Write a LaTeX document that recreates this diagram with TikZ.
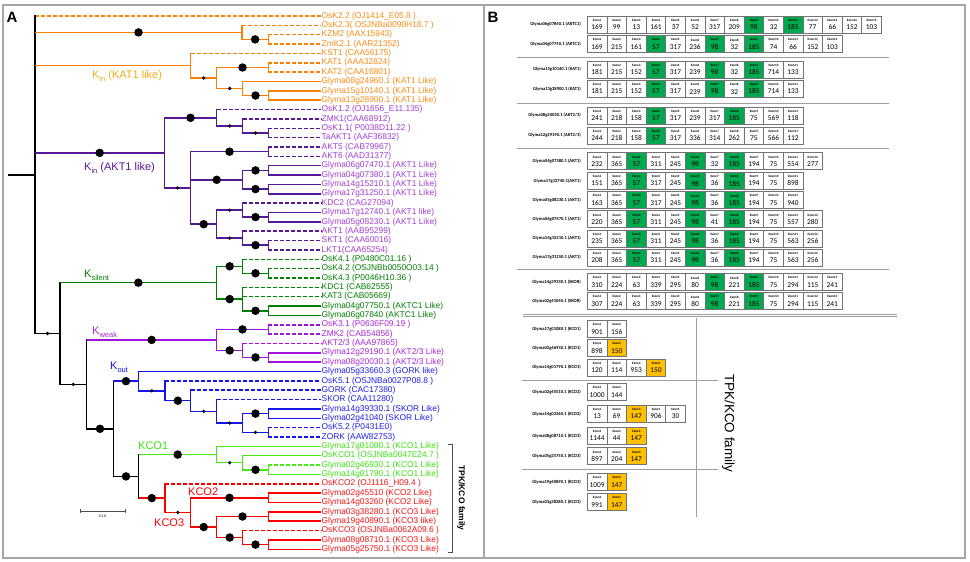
\documentclass[tikz,border=0pt]{standalone}
\usepackage{fontspec}
\setmainfont{Liberation Sans}
\newfontfamily\calibfont{Carlito}
\usetikzlibrary{positioning}
\definecolor{orl}{RGB}{255,128,0}
\definecolor{ort}{RGB}{247,140,20}
\definecolor{katlab}{RGB}{240,176,20}
\definecolor{pul}{RGB}{85,25,150}
\definecolor{put}{RGB}{165,60,210}
\definecolor{grl}{RGB}{0,128,0}
\definecolor{grt}{RGB}{0,128,0}
\definecolor{vil}{RGB}{160,20,220}
\definecolor{vit}{RGB}{170,40,215}
\definecolor{bll}{RGB}{20,20,235}
\definecolor{blt}{RGB}{30,30,230}
\definecolor{lil}{RGB}{70,235,20}
\definecolor{lit}{RGB}{60,225,20}
\definecolor{rel}{RGB}{255,0,0}
\definecolor{ret}{RGB}{245,20,20}
\colorlet{bkl}{black}
\colorlet{ew}{white}
\definecolor{eg}{RGB}{0,168,80}
\definecolor{ey}{RGB}{255,192,0}
\newcommand\ksub[1]{\raisebox{-0.45ex}{\fontsize{7.5}{8}\selectfont #1}}
\tikzset{
	treeline/.style={line width=1.5pt}, %every branch of the tree
	vert/.style={line cap=rect}, %closes the corners of the elbows
	leafdash/.style={dash pattern=on 4pt off 2pt}, %leaves that are not soybean genes
	bigdot/.style={circle, fill=black, inner sep=0pt, minimum size=8.5pt},
	smalldot/.style={circle, fill=black, inner sep=0pt, minimum size=3.6pt},
	nodot/.style={inner sep=0pt, minimum size=0pt},
	leaflab/.style={anchor=west, inner sep=0.5pt, font=\fontsize{8.4}{9}\selectfont},
	clade/.style={anchor=west, inner sep=0pt, font=\fontsize{11}{12}\selectfont},
	panframe/.style={draw=gray!70, line width=1.3pt},
	panlab/.style={font=\bfseries\fontsize{15}{16}\selectfont, inner sep=0pt},
	exon/.style={draw=black!55, line width=0.6pt, minimum width=19.6pt, minimum height=17pt, inner sep=0pt, align=center, font=\calibfont\fontsize{7.4}{7}\selectfont},
	rowlab/.style={anchor=east, inner sep=0pt, font=\calibfont\bfseries\fontsize{4.6}{5}\selectfont},
	divline/.style={draw=gray!75, line width=0.8pt}, %lines between the gene groups
}

\begin{document}
\begin{tikzpicture}[x=1pt,y=-1pt]
	\useasboundingbox (0,0) rectangle (970,562);
	% frames of the two panels
	\draw[panframe] (3,5) rectangle (965,558);
	\coordinate (mtop) at (484,5);
	\coordinate (mbot) at (484,558);
	\draw[panframe] (mtop) -- (mbot);
	\node[panlab] (pA) at (12,17) {A};
	\node[panlab] (pB) at (493,17) {B};

	% ---- A: tree ----
	\foreach \nm/\xx/\yy in {R/35/175, o1/242/32.4, o2/268.3/39.4, o3/190.7/65.7, o4/216.7/78,
		o5/268.3/67.5, o6/242.7/88.5, o7/268.3/95.5, p1/164.3/152.9, p2/216.7/117.8,
		p3/242.7/126, p4/268.3/133, p5/190.7/187.9, p6/268.3/151.7, p7/242.7/179.8,
		p8/268.3/170.4, p9/268.3/189.1, p10/216.7/224.2, p11/242.7/210.1, p12/268.3/217.1,
		p13/242.7/238.2, p14/268.3/245.2, b1/60/333.5, g1/216.7/282.7, g2/242.7/266.3,
		g3/268.3/273.3, g4/242.7/299.1, g5/268.3/310.8, b2/86.7/384.4, v1/216.7/339.9,
		v2/268.3/329.4, v3/242.7/350.4, v4/268.3/357.4, b3/113.3/428.8, u1/138.7/381.2,
		u2/165/390.8, u3/190.7/400.7, u4/216.7/411.3, u5/242.7/423, u6/268.3/413.6,
		u7/268.3/432.3, b4/138.7/476.4, k1/216.7/454.6, k2/242.7/462.7, k3/268.3/469.8,
		r1/165/498.1, r2/190.7/512.4, r3/268.3/497.8, r4/216.7/527, r5/268.3/516.5,
		r6/242.7/537.5, r7/268.3/544.6}
		\coordinate (\nm) at (\xx,\yy);
	\coordinate (root0) at (8,175);
	\draw[treeline,bkl] (root0) -- (R);

	% leaves: number/parent/colour/line/text
	\foreach \i/\pa/\cl/\sty/\txt in {
		1/R/or/leafdash/{OsK2.2 (OJ1414\_E05.8 )},
		2/o1/or/leafdash/{OsK2.3( OSJNBa0090H18.7 )},
		3/o2/or/leafdash/{KZM2 (AAX15943)},
		4/o2/or/leafdash/{ZmK2.1 (AAR21352)},
		5/o3/or/leafdash/{KST1 (CAA56175)},
		6/o5/or/leafdash/{KAT1 (AAA32824)},
		7/o5/or/leafdash/{KAT2 (CAA16801)},
		8/o6/or/solid/{Glyma08g24960.1 (KAT1 Like)},
		9/o7/or/solid/{Glyma15g10140.1 (KAT1 Like)},
		10/o7/or/solid/{Glyma13g28900.1 (KAT1 Like)},
		11/p2/pu/leafdash/{OsK1.2 (OJ1656\_E11.135)},
		12/p3/pu/leafdash/{ZMK1(CAA68912)},
		13/p4/pu/leafdash/{OsK1.1( P0038D11.22 )},
		14/p4/pu/leafdash/{TaAKT1 (AAF36832)},
		15/p6/pu/leafdash/{AKT5 (CAB79967)},
		16/p6/pu/leafdash/{AKT6 (AAD31377)},
		17/p8/pu/solid/{Glyma06g07470.1 (AKT1 Like)},
		18/p8/pu/solid/{Glyma04g07380.1 (AKT1 Like)},
		19/p9/pu/solid/{Glyma14g15210.1 (AKT1 Like)},
		20/p9/pu/solid/{Glyma17g31250.1 (AKT1 Like)},
		21/p11/pu/leafdash/{KDC2 (CAG27094)},
		22/p12/pu/solid/{Glyma17g12740.1 (AKT1 like)},
		23/p12/pu/solid/{Glyma05g08230.1 (AKT1 Like)},
		24/p13/pu/leafdash/{AKT1 (AAB95299)},
		25/p14/pu/leafdash/{SKT1 (CAA60016)},
		26/p14/pu/leafdash/{LKT1(CAA65254)},
		27/g2/gr/leafdash/{OsK4.1 (P0480C01.16 )},
		28/g3/gr/leafdash/{OsK4.2 (OSJNBb0050O03.14 )},
		29/g3/gr/leafdash/{OsK4.3 (P0046H10.36 )},
		30/g4/gr/leafdash/{KDC1 (CAB62555)},
		31/g4/gr/leafdash/{KAT3 (CAB05669)},
		32/g5/gr/solid/{Glyma04g07750.1 (AKTC1 Like)},
		33/g5/gr/solid/{Glyma06g07840 (AKTC1 Like)},
		34/v2/vi/leafdash/{OsK3.1 (P0636F09.19 )},
		35/v2/vi/leafdash/{ZMK2 (CAB54856)},
		36/v3/vi/leafdash/{AKT2/3 (AAA97865)},
		37/v4/vi/solid/{Glyma12g29190.1 (AKT2/3 Like)},
		38/v4/vi/solid/{Glyma08g20030.1 (AKT2/3 Like)},
		39/u1/bl/solid/{Glyma05g33660.3 (GORK like)},
		40/u2/bl/leafdash/{OsK5.1 (OSJNBa0027P08.8 )},
		41/u3/bl/leafdash/{GORK (CAC17380)},
		42/u4/bl/leafdash/{SKOR (CAA11280)},
		43/u6/bl/solid/{Glyma14g39330.1 (SKOR Like)},
		44/u6/bl/solid/{Glyma02g41040 (SKOR Like)},
		45/u7/bl/leafdash/{OsK5.2 (P0431E0)},
		46/u7/bl/leafdash/{ZORK (AAW82753)},
		47/k1/li/solid/{Glyma17g01080.1 (KCO1 Like)},
		48/k2/li/solid/{OsKCO1 (OSJNBa0047E24.7 )},
		49/k3/li/leafdash/{Glyma02g46930.1 (KCO1 Like)},
		50/k3/li/solid/{Glyma14g01790.1 (KCO1 Like)},
		51/r1/re/leafdash/{OsKCO2 (OJ1116\_H09.4 )},
		52/r3/re/solid/{Glyma02g45510 (KCO2 Like)},
		53/r3/re/solid/{Glyma14g03260 (KCO2 Like)},
		54/r5/re/solid/{Glyma03g38280.1 (KCO3 Like)},
		55/r5/re/solid/{Glyma19g40890.1 (KCO3 like)},
		56/r6/re/leafdash/{OsKCO3 (OSJNBa0062A09.6 )},
		57/r7/re/solid/{Glyma08g08710.1 (KCO3 Like)},
		58/r7/re/solid/{Glyma05g25750.1 (KCO3 Like)}} {
		\pgfmathsetmacro\yy{16+(\i-1)*9.356}
		\node[leaflab,text=\cl t] (l\i) at (321,\yy) {\txt};
		\draw[treeline,\cl l,\sty] (\pa |- l\i.west) -- (l\i.west);
	}

	% vertical part of every inner node
	\foreach \ch/\cl/\ta/\tb in {R/bk/l1/b1, o1/or/l2/o2, o2/or/l3/l4, o3/or/l5/o4, o4/or/o5/o6,
		o5/or/l6/l7, o6/or/l8/o7, o7/or/l9/l10, p1/pu/p2/p5, p2/pu/l11/p3, p3/pu/l12/p4,
		p4/pu/l13/l14, p5/pu/p6/p10, p6/pu/l15/l16, p7/pu/p8/p9, p8/pu/l17/l18, p9/pu/l19/l20,
		p10/pu/p11/p13, p11/pu/l21/p12, p12/pu/l22/l23, p13/pu/l24/p14, p14/pu/l25/l26,
		b1/bk/g1/b2, g1/gr/g2/g4, g2/gr/l27/g3, g3/gr/l28/l29, g4/gr/l30/g5, g5/gr/l32/l33,
		b2/bk/v1/b3, v1/vi/v2/v3, v2/vi/l34/l35, v3/vi/l36/v4, v4/vi/l37/l38,
		b3/bk/u1/b4, u1/bl/l39/u2, u2/bl/l40/u3, u3/bl/l41/u4, u4/bl/l42/u5, u5/bl/u6/u7,
		u6/bl/l43/l44, u7/bl/l45/l46, b4/bk/k1/r1, k1/li/l47/k2, k2/li/l48/k3, k3/li/l49/l50,
		r1/re/l51/r2, r2/re/r3/r4, r3/re/l52/l53, r4/re/r5/r6, r5/re/l54/l55, r6/re/l56/r7,
		r7/re/l57/l58}
		\draw[treeline,vert,\cl l] (\ch |- \ta) -- (\ch |- \tb);

	% inner branches with their support dots
	\foreach \ch/\pa/\cl/\dt in {o1/R/or/bigdot, o2/o1/or/bigdot, o3/R/or/nodot, o4/o3/or/smalldot,
		o5/o4/or/bigdot, o6/o4/or/smalldot, o7/o6/or/bigdot, p1/R/pu/bigdot, p2/p1/pu/bigdot,
		p3/p2/pu/smalldot, p4/p3/pu/smalldot, p5/p1/pu/smalldot, p6/p5/pu/bigdot, p7/p5/pu/bigdot,
		p8/p7/pu/bigdot, p9/p7/pu/bigdot, p10/p5/pu/bigdot, p11/p10/pu/smalldot, p12/p11/pu/bigdot,
		p13/p10/pu/smalldot, p14/p13/pu/bigdot, b1/R/bk/smalldot, g1/b1/gr/bigdot, g2/g1/gr/bigdot,
		g3/g2/gr/bigdot, g4/g1/gr/bigdot, g5/g4/gr/bigdot, b2/b1/bk/smalldot, v1/b2/vi/bigdot,
		v2/v1/vi/bigdot, v3/v1/vi/bigdot, v4/v3/vi/bigdot, b3/b2/bk/bigdot, u1/b3/bl/bigdot,
		u2/u1/bl/smalldot, u3/u2/bl/bigdot, u4/u3/bl/smalldot, u5/u4/bl/smalldot, u6/u5/bl/bigdot,
		u7/u5/bl/smalldot, b4/b3/bk/bigdot, k1/b4/li/bigdot, k2/k1/li/smalldot, k3/k2/li/bigdot,
		r1/b4/re/bigdot, r2/r1/re/smalldot, r3/r2/re/bigdot, r4/r2/re/bigdot, r5/r4/re/bigdot,
		r6/r4/re/bigdot, r7/r6/re/bigdot}
		\draw[treeline,\cl l] (\pa |- \ch) -- node[\dt] (d\ch) {} (\ch);

	% clade names
	\node[clade,text=katlab] (kinkat) at (92,76) {K\ksub{in} (KAT1 like)};
	\node[clade,text=pul] (kinakt) at (84,168) {K\ksub{in} (AKT1 like)};
	\node[clade,text=grl] (ksilent) at (84,275) {K\ksub{silent}};
	\node[clade,text=vit] (kweak) at (92,332) {K\ksub{weak}};
	\node[clade,text=bll] (kout) at (110,367) {K\ksub{out}};
	\node[clade,text=lit] (kco1) at (138,446) {KCO1};
	\node[clade,text=rel] (kco2) at (188,492) {KCO2};
	\node[clade,text=rel] (kco3) at (154,523) {KCO3};

	% scale bar
	\coordinate (sbl) at (80,511);
	\coordinate (sbr) at (125,511);
	\draw[black!70, line width=0.6pt] (sbl) -- (sbr);
	\draw[black!70, line width=0.6pt] ([yshift=-2pt]sbl) -- ([yshift=2pt]sbl) ([yshift=-2pt]sbr) -- ([yshift=2pt]sbr);
	\node[font=\fontsize{3.6}{4}\selectfont, inner sep=0pt] (sblab) at (102.5,516.5) {0.10};

	% family bracket
	\coordinate (brt) at (448,444.3);
	\coordinate (brb) at (448,552.3);
	\draw[black!70, line width=0.7pt] (brt) -- ++(4.7,0) |- (brb);
	\node[rotate=-90, inner sep=0pt, font=\bfseries\fontsize{8.5}{9}\selectfont] (tpka) at (461,498) {TPK/KCO family};

	% ---- B: exon structure ----
	\foreach \rw/\ry/\lab/\vals in {
		1/24.5/{Glyma06g07840.1 (AKTC1)}/{169/ew,99/ew,13/ew,161/ew,37/ew,52/ew,317/ew,209/ew,98/eg,32/ew,185/eg,77/ew,66/ew,152/ew,103/ew},
		2/44/{Glyma04g07750.1 (AKTC1)}/{169/ew,215/ew,161/ew,57/eg,317/ew,236/ew,98/eg,32/ew,185/eg,74/ew,66/ew,152/ew,103/ew},
		3/69.3/{Glyma15g10140.1 (KAT1)}/{181/ew,215/ew,152/ew,57/eg,317/ew,239/ew,98/eg,32/ew,185/eg,714/ew,133/ew},
		4/88.8/{Glyma13g28900.1 (KAT1)}/{181/ew,215/ew,152/ew,57/eg,317/ew,239/ew,98/eg,32/ew,185/eg,714/ew,133/ew},
		5/115.3/{Glyma08g20030.1 (AKT2/3)}/{241/ew,218/ew,158/ew,57/eg,317/ew,239/ew,317/ew,185/eg,75/ew,569/ew,118/ew},
		6/135.3/{Glyma12g29190.1 (AKT2/3)}/{244/ew,218/ew,158/ew,57/eg,317/ew,336/ew,314/ew,262/ew,75/ew,566/ew,112/ew},
		7/161.2/{Glyma04g07380.1 (AKT1)}/{232/ew,365/ew,57/eg,311/ew,245/ew,98/eg,32/ew,185/eg,194/ew,75/ew,554/ew,277/ew},
		8/180.8/{Glyma17g12740.1(AKT1)}/{151/ew,365/ew,57/eg,317/ew,245/ew,98/eg,36/ew,185/eg,194/ew,75/ew,898/ew},
		9/200/{Glyma05g08230.1 (AKT1)}/{163/ew,365/ew,57/eg,317/ew,245/ew,98/eg,36/ew,185/eg,194/ew,75/ew,940/ew},
		10/219.2/{Glyma06g07470.1 (AKT1)}/{220/ew,365/ew,57/eg,311/ew,245/ew,98/eg,41/ew,185/eg,194/ew,75/ew,557/ew,280/ew},
		11/238.3/{Glyma14g15210.1 (AKT1)}/{235/ew,365/ew,57/eg,311/ew,245/ew,98/eg,36/ew,185/eg,194/ew,75/ew,563/ew,256/ew},
		12/257.3/{Glyma17g31250.1 (AKT1)}/{208/ew,365/ew,57/eg,311/ew,245/ew,98/eg,36/ew,185/eg,194/ew,75/ew,563/ew,256/ew},
		13/282/{Glyma14g39330.1 (SKOR)}/{310/ew,224/ew,63/ew,339/ew,295/ew,80/ew,98/eg,221/ew,185/eg,75/ew,294/ew,115/ew,241/ew},
		14/301/{Glyma02g41040.1 (SKOR)}/{307/ew,224/ew,63/ew,339/ew,295/ew,80/ew,98/eg,221/ew,185/eg,75/ew,294/ew,115/ew,241/ew},
		15/329/{Glyma17g01080.1 (KCO1)}/{901/ew,156/ew},
		16/348/{Glyma02g46930.1 (KCO1)}/{898/ew,150/ey},
		17/367.5/{Glyma14g01790.1 (KCO1)}/{120/ew,114/ew,953/ew,150/ey},
		18/392/{Glyma02g45510.1 (KCO2)}/{1000/ew,144/ew},
		19/413.7/{Glyma14g03260.1 (KCO2)}/{13/ew,69/ew,147/ey,906/ew,30/ew},
		20/435.7/{Glyma08g08710.1 (KCO3)}/{1144/ew,44/ew,147/ey},
		21/456.2/{Glyma05g25750.1 (KCO3)}/{897/ew,204/ew,147/ey},
		22/482/{Glyma19g40890.1 (KCO3)}/{1009/ew,147/ey},
		23/502/{Glyma03g38280.1 (KCO3)}/{991/ew,147/ey}} {
		\node[rowlab] (t\rw) at (581,\ry) {\lab};
		\foreach \val/\col [count=\kk] in \vals
			\node[exon,fill=\col] (ex\rw-\kk) at ({587.3+(\kk-0.5)*19.6},\ry)
				{{\bfseries\fontsize{3.3}{3.5}\selectfont Exon\kk}\\[1.2pt]\val};
	}

	% group dividers
	\foreach \yy [count=\n] in {57.3,103.3,148,269.3} {
		\coordinate (dva\n) at (517.3,\yy);
		\coordinate (dvb\n) at (889,\yy);
		\draw[divline] (dva\n) -- (dvb\n);
	}
	\foreach \yy [count=\n] in {314,316.2} {
		\coordinate (dda\n) at (522.7,\yy);
		\coordinate (ddb\n) at (896.7,\yy);
		\draw[divline] (dda\n) -- (ddb\n);
	}
	\foreach \yy [count=\n] in {380.7,469.3} {
		\coordinate (dka\n) at (522,\yy);
		\coordinate (dkb\n) at (718,\yy);
		\draw[divline] (dka\n) -- (dkb\n);
	}
	\coordinate (vkt) at (696.7,318.3);
	\coordinate (vkb) at (696.7,516.7);
	\draw[divline] (vkt) -- (vkb);
	\node[rotate=-90, inner sep=0pt, font=\fontsize{13.5}{14}\selectfont] (tpkb) at (728.3,423.3) {TPK/KCO family};
\end{tikzpicture}
\end{document}
